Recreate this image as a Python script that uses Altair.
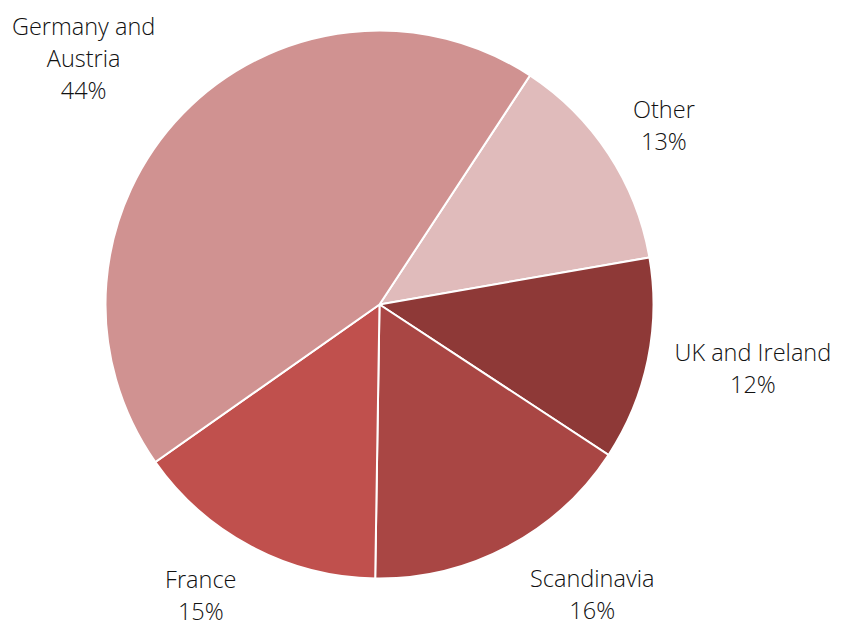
import math
import altair as alt
import pandas as pd

categories = ["Other", "UK and Ireland", "Scandinavia", "France", "Germany and Austria"]
label_lines = ["Other\n13%", "UK and Ireland\n12%", "Scandinavia\n16%", "France\n15%", "Germany and\nAustria\n44%"]
values = [13, 12, 16, 15, 44]
colors = ["#E0BBBB", "#8E3937", "#A94644", "#C0504D", "#D09291"]

# label placement nudges (degrees from slice middle, radius in px)
angle_nudge = {"Other": 1.4, "UK and Ireland": -1.8, "Scandinavia": -8.2, "France": 3.5, "Germany and Austria": -4.5}
label_radius = {"Other": 335, "UK and Ireland": 379, "Scandinavia": 361, "France": 343, "Germany and Austria": 384}

start_deg = 33.3
start = math.radians(start_deg)
line_h = 32

df = pd.DataFrame({
    "category": categories,
    "value": values,
    "label": label_lines,
    "order": list(range(len(categories))),
})
total = sum(values)
cum = 0
lth, lr = [], []
for v, c, lab in zip(values, categories, label_lines):
    mid = start_deg + (cum + v / 2) / total * 360
    cum += v
    a = math.radians(mid + angle_nudge[c])
    r = label_radius[c]
    # Vega anchors a multi-line block at the middle of its first line
    px = r * math.sin(a)
    py = -r * math.cos(a) - (lab.count("\n")) * line_h / 2
    lth.append(math.atan2(px, -py))
    lr.append(math.hypot(px, py))
df["ltheta"] = lth
df["lradius"] = lr

cx, cy = 371.5, 296.5

base = alt.Chart(df)

arcs = base.mark_arc(outerRadius=274, stroke="white", strokeWidth=2).encode(
    theta=alt.Theta("value:Q", stack=True, scale=alt.Scale(range=[start, start + 2 * math.pi])),
    order=alt.Order("order:Q"),
    color=alt.Color("category:N", scale=alt.Scale(domain=categories, range=colors), legend=None),
    x=alt.value(cx),
    y=alt.value(cy),
)

labels = base.mark_text(
    font="Open Sans", fontSize=23.5, fontWeight=300, lineBreak="\n", lineHeight=line_h,
    align="center", baseline="middle", color="#111111",
).encode(
    theta=alt.Theta("ltheta:Q", scale=None),
    radius=alt.Radius("lradius:Q", scale=None),
    text="label:N",
    x=alt.value(cx),
    y=alt.value(cy),
)

chart = alt.layer(arcs, labels).properties(
    width=826, height=607, padding=0, background="white"
).configure_view(stroke=None)

chart.save("out.html", embed_options={"renderer": "svg", "actions": False})
